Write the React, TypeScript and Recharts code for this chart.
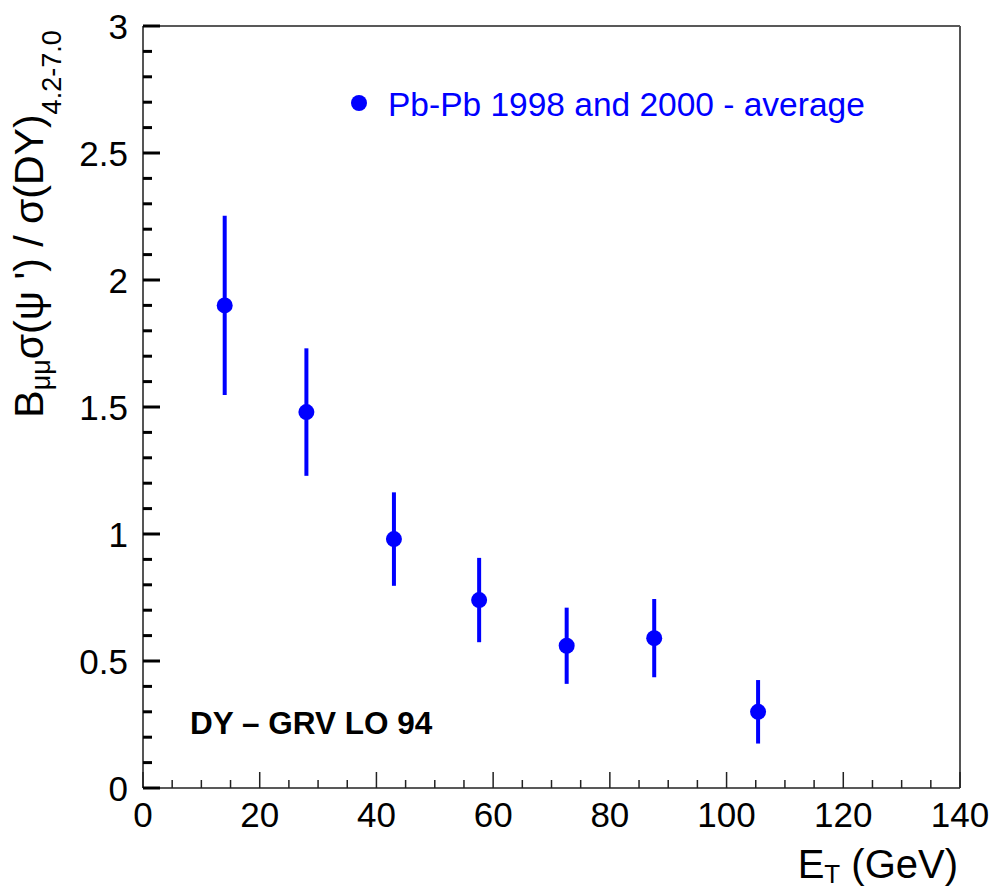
import { ErrorBar, Scatter, ScatterChart, XAxis, YAxis } from 'recharts'

// E_T bins (GeV) and the psi' / DY ratio with its error
const et = [14, 28, 43, 57.6, 72.6, 87.6, 105.4]
const ratio = [1.9, 1.48, 0.98, 0.74, 0.56, 0.59, 0.3]
const ratioErr = [0.353, 0.251, 0.184, 0.166, 0.15, 0.154, 0.125]

const xTicks = [
	0, 5, 10, 15, 20, 25, 30, 35, 40, 45, 50, 55, 60, 65, 70, 75, 80, 85, 90, 95,
	100, 105, 110, 115, 120, 125, 130, 135, 140,
]
const yTicks = [
	0, 0.1, 0.2, 0.3, 0.4, 0.5, 0.6, 0.7, 0.8, 0.9, 1, 1.1, 1.2, 1.3, 1.4, 1.5,
	1.6, 1.7, 1.8, 1.9, 2, 2.1, 2.2, 2.3, 2.4, 2.5, 2.6, 2.7, 2.8, 2.9, 3,
]

const legendLabel = 'Pb-Pb 1998 and 2000 - average'
const noteLabel = 'DY – GRV LO 94'

const data = et.map((x, i) => ({ x, y: ratio[i], err: ratioErr[i] }))

const FONT = '"Liberation Sans", Arial, Helvetica, sans-serif'
const BLUE = '#0000ff'

const isXMajor = (v: number) => v % 20 === 0
const isYMajor = (v: number) => Math.abs(v * 2 - Math.round(v * 2)) < 1e-6

const BottomTick = ({ x, y, payload }: any) => {
	const major = isXMajor(payload.value)
	return (
		<g>
			<line x1={x} x2={x} y1={y} y2={y - (major ? 16 : 8)} stroke="#222" strokeWidth={1.5} />
			{major && (
				<text x={x} y={y + 39} textAnchor="middle" fontFamily={FONT} fontSize={35} fill="#000">
					{payload.value}
				</text>
			)}
		</g>
	)
}

const TopTick = ({ x, y, payload }: any) => {
	const major = isXMajor(payload.value)
	return <line x1={x} x2={x} y1={y} y2={y + (major ? 16 : 8)} stroke="#222" strokeWidth={1.5} />
}

const LeftTick = ({ x, y, payload }: any) => {
	const major = isYMajor(payload.value)
	return (
		<g>
			<line x1={x} x2={x + (major ? 17 : 9)} y1={y} y2={y} stroke="#000" strokeWidth={3} />
			{major && (
				<text x={x - 15} y={y + 13} textAnchor="end" fontFamily={FONT} fontSize={35} fill="#000">
					{String(Math.round(payload.value * 10) / 10)}
				</text>
			)}
		</g>
	)
}

const RightTick = ({ x, y, payload }: any) => {
	const major = isYMajor(payload.value)
	return <line x1={x} x2={x - (major ? 17 : 9)} y1={y} y2={y} stroke="#000" strokeWidth={3} />
}

const Dot = ({ cx, cy }: any) => <circle cx={cx} cy={cy} r={8} fill={BLUE} />

const App = () => {
	return (
		<div style={{ position: 'absolute', left: 0, top: 0, width: 993, height: 888, background: '#fff' }}>
			<ScatterChart
				width={993}
				height={888}
				margin={{ top: 25, right: 32, bottom: 99, left: 142 }}
			>
				<XAxis
					xAxisId="b"
					type="number"
					dataKey="x"
					domain={[0, 140]}
					ticks={xTicks}
					interval={0}
					height={1}
					tickSize={0}
					tickMargin={0}
					tick={<BottomTick />}
					axisLine={{ stroke: '#222', strokeWidth: 1.5 }}
					tickLine={false}
				/>
				<XAxis
					xAxisId="t"
					orientation="top"
					type="number"
					domain={[0, 140]}
					ticks={xTicks}
					interval={0}
					height={1}
					tickSize={0}
					tickMargin={0}
					tick={<TopTick />}
					axisLine={{ stroke: '#222', strokeWidth: 1.5 }}
					tickLine={false}
				/>
				<YAxis
					yAxisId="l"
					type="number"
					dataKey="y"
					domain={[0, 3]}
					ticks={yTicks}
					interval={0}
					width={1}
					tickSize={0}
					tickMargin={0}
					tick={<LeftTick />}
					axisLine={{ stroke: '#555', strokeWidth: 2 }}
					tickLine={false}
				/>
				<YAxis
					yAxisId="r"
					orientation="right"
					type="number"
					domain={[0, 3]}
					ticks={yTicks}
					interval={0}
					width={1}
					tickSize={0}
					tickMargin={0}
					tick={<RightTick />}
					axisLine={{ stroke: '#555', strokeWidth: 2 }}
					tickLine={false}
				/>
				<Scatter
					xAxisId="b"
					yAxisId="l"
					data={data}
					fill={BLUE}
					shape={<Dot />}
					isAnimationActive={false}
				>
					<ErrorBar
						dataKey="err"
						direction="y"
						width={0}
						stroke={BLUE}
						strokeWidth={4}
						isAnimationActive={false}
					/>
				</Scatter>
			</ScatterChart>
			<svg
				width={993}
				height={888}
				style={{ position: 'absolute', left: 0, top: 0, pointerEvents: 'none' }}
			>
				<circle cx={359} cy={103} r={8} fill={BLUE} />
				<text x={388} y={116} fontFamily={FONT} fontSize={33.5} fill={BLUE}>
					{legendLabel}
				</text>
				<text x={190} y={734} fontFamily={FONT} fontSize={31.5} fontWeight="bold" fill="#000">
					{noteLabel}
				</text>
				<text x={958} y={878} textAnchor="end" fontFamily={FONT} fontSize={40} fill="#000">
					E<tspan fontSize={26} dy={5}>T</tspan>
					<tspan dy={-5}> (GeV)</tspan>
				</text>
				<text
					x={43}
					y={224}
					transform="rotate(-90, 43, 224)"
					textAnchor="middle"
					fontFamily={FONT}
					fontSize={41}
					fill="#000"
				>
					B<tspan fontSize={27} dy={7}>μμ</tspan>
					<tspan dy={-7}>σ(ψ ') / σ(DY)</tspan>
					<tspan fontSize={27} dy={18}>4.2-7.0</tspan>
				</text>
			</svg>
		</div>
	)
}

export default App
